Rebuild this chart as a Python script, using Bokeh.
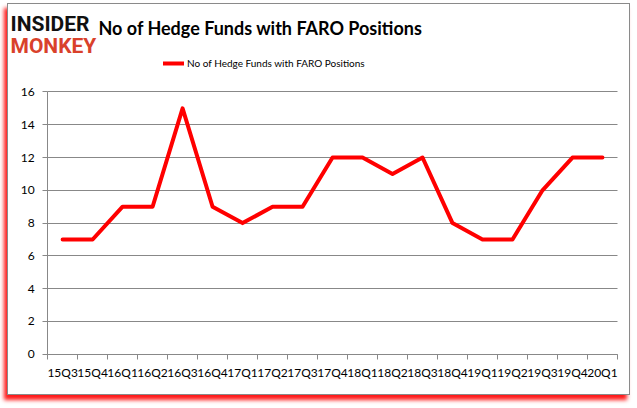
from bokeh.plotting import figure
from bokeh.models import Range1d, FixedTicker, Label, Legend, LegendItem
from bokeh.embed import file_html
from bokeh.resources import INLINE

quarters = ["15Q3", "15Q4", "16Q1", "16Q2", "16Q3", "16Q4", "17Q1", "17Q2", "17Q3", "17Q4",
            "18Q1", "18Q2", "18Q3", "18Q4", "19Q1", "19Q2", "19Q3", "19Q4", "20Q1"]
funds = [7, 7, 9, 9, 15, 9, 8, 9, 9, 12, 12, 11, 12, 8, 7, 7, 10, 12, 12]
y_ticks = [0, 2, 4, 6, 8, 10, 12, 14, 16]
series_name = "No of Hedge Funds with FARO Positions"

n = len(quarters)
xs = [i + 0.5 for i in range(n)]
boundaries = [float(i) for i in range(n + 1)]

# layout (pixels inside the bordered box)
W, H = 623, 392
inner_w, inner_h = W - 2, H - 2
ax_left, ax_right = 39, 607      # x = 0 and x = n
ax_top, ax_bottom = 87, 348      # y = 16 and y = 0
x_per = (ax_right - ax_left) / n
y_per = (ax_bottom - ax_top) / 16.0

p = figure(width=W, height=H, output_backend="svg", toolbar_location=None,
           x_range=Range1d(-ax_left / x_per, n + (inner_w - ax_right) / x_per),
           y_range=Range1d(-(inner_h - ax_bottom) / y_per, 16 + ax_top / y_per),
           min_border_left=0, min_border_right=0, min_border_top=0, min_border_bottom=0)
p.background_fill_color = "white"
p.border_fill_color = "white"
p.outline_line_color = None
p.styles = {"border": "1px solid #8a8a8a", "box-shadow": "-3px 5px 4px #ff1a1a",
            "margin-left": "7px", "margin-top": "3px"}

r = p.line(xs, funds, line_color="#ff0000", line_width=4, line_join="round", line_cap="round")

# x axis pinned at y = 0
p.xaxis.fixed_location = 0
p.xaxis.ticker = FixedTicker(ticks=xs, minor_ticks=boundaries)
p.xaxis.bounds = (0, n)
p.xaxis.major_label_overrides = {x: q for x, q in zip(xs, quarters)}
p.xaxis.major_tick_out = 0
p.xaxis.major_tick_in = 0
p.xaxis.minor_tick_out = 5
p.xaxis.minor_tick_in = 0
p.xaxis.minor_tick_line_color = "#888888"
p.xaxis.axis_line_color = "#888888"
p.xaxis.major_label_text_font = "Lato"
p.xaxis.major_label_text_font_size = "12px"
p.xaxis.major_label_text_color = "#000000"
p.xaxis.major_label_standoff = 6

# y axis pinned at x = 0
p.yaxis.fixed_location = 0
p.yaxis.bounds = (0, 16)
p.yaxis.ticker = FixedTicker(ticks=y_ticks)
p.yaxis.major_tick_out = 5
p.yaxis.major_tick_in = 0
p.yaxis.minor_tick_line_color = None
p.yaxis.major_tick_line_color = "#888888"
p.yaxis.axis_line_color = "#888888"
p.yaxis.major_label_text_font = "Lato"
p.yaxis.major_label_text_font_size = "12px"
p.yaxis.major_label_text_color = "#000000"
p.yaxis.major_label_standoff = 8

p.xgrid.grid_line_color = None
p.ygrid.grid_line_color = "#888888"
p.ygrid.ticker = FixedTicker(ticks=y_ticks)
p.ygrid.bounds = (0, 16)
p.ygrid.cross_bounds = (0, n)

# legend
legend = Legend(items=[LegendItem(label=series_name, renderers=[r])], location=(155, 326),
                orientation="horizontal", border_line_color=None, background_fill_alpha=0,
                padding=0, margin=0, glyph_width=21, glyph_height=14, label_standoff=3,
                label_text_font="Lato", label_text_font_size="10px", label_text_color="#000000")
p.add_layout(legend)

# title and logo
title = Label(x=90, y=369, x_units="screen", y_units="screen", text=series_name,
              text_font="Lato", text_font_style="bold", text_font_size="18px",
              text_color="#000000", text_baseline="alphabetic")
logo1 = Label(x=2, y=373, x_units="screen", y_units="screen", text="INSIDER",
              text_font="Roboto", text_font_style="bold", text_font_size="21px",
              text_color="#111111", text_baseline="alphabetic")
logo2 = Label(x=2, y=351, x_units="screen", y_units="screen", text="MONKEY",
              text_font="Roboto", text_font_style="bold", text_font_size="21px",
              text_color="#d9412b", text_baseline="alphabetic")
for lab in (title, logo1, logo2):
    p.add_layout(lab)

open("out.html", "w").write(file_html(p, INLINE))
